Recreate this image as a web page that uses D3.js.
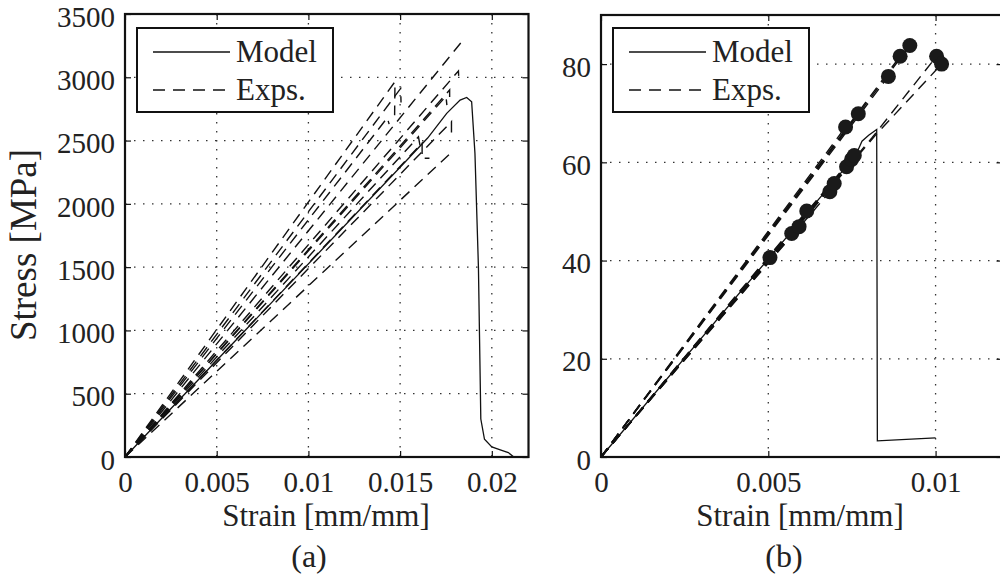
<!DOCTYPE html>
<html>
<head>
<meta charset="utf-8">
<script src="https://cdn.jsdelivr.net/npm/d3@7"></script>
<style>
body { margin: 0; background: #fff; }
text { font-family: "Liberation Serif", "Times New Roman", serif; fill: #222; }
</style>
</head>
<body>
<svg id="chart" width="1000" height="578" font-family="Liberation Serif, serif"></svg>
<script>
// ---- panel (a): stress in MPa vs strain
const xTicksA = [0, 0.005, 0.01, 0.015, 0.02];
const yTicksA = [0, 500, 1000, 1500, 2000, 2500, 3000, 3500];
const modelA = [[0, 0], [0.0154, 2350], [0.0165, 2520], [0.01754, 2715], [0.01827, 2820], [0.01863, 2841],
    [0.0189, 2807], [0.01908, 2400], [0.01927, 1500], [0.0194, 300], [0.0196, 140], [0.0200, 80],
    [0.0205, 55], [0.0209, 35], [0.0212, 0]];
const expA = [
    [[0, 0], [0.01472, 2965], [0.01470, 2700]],
    [[0, 0], [0.01503, 2912], [0.01505, 2800]],
    [[0, 0], [0.0143, 2680], [0.0144, 2630]],
    [[0, 0], [0.01836, 3281]],
    [[0, 0], [0.01818, 3050], [0.01820, 2990]],
    [[0, 0], [0.0177, 2900], [0.0177, 2800]],
    [[0, 0], [0.0175, 2850], [0.01755, 2780]],
    [[0, 0], [0.0160, 2530], [0.0161, 2450]],
    [[0, 0], [0.0162, 2480], [0.0162, 2360], [0.0166, 2360]],
    [[0, 0], [0.0178, 2650], [0.0178, 2540]],
    [[0, 0], [0.0179, 2420]]
];

// ---- panel (b)
const xTicksB = [0, 0.005, 0.01];
const yTicksB = [0, 20, 40, 60, 80];
const modelB = [[0, 0], [0.0075, 60.5], [0.00765, 62], [0.0078, 64.3], [0.0080, 65.5], [0.00824, 66.7],
    [0.00826, 3.3], [0.0100, 3.9]];
// every test ends with a filled dot
const expB = [
    [[0, 0], [0.00731, 67.2]],
    [[0, 0], [0.00769, 69.9]],
    [[0, 0], [0.00859, 77.5]],
    [[0, 0], [0.00894, 81.6]],
    [[0, 0], [0.00923, 83.8]],
    [[0, 0], [0.00505, 40.6]],
    [[0, 0], [0.0057, 45.5]],
    [[0, 0], [0.00592, 46.9]],
    [[0, 0], [0.00615, 50.1]],
    [[0, 0], [0.00684, 54.0]],
    [[0, 0], [0.00697, 55.7]],
    [[0, 0], [0.00734, 59.1]],
    [[0, 0], [0.00749, 60.6]],
    [[0, 0], [0.00757, 61.4]],
    [[0, 0], [0.0081, 65], [0.01003, 81.6]],
    [[0, 0], [0.0082, 65.5], [0.01018, 80.0]]
];

const legendNames = ['Model', 'Exps.'];

const svg = d3.select('#chart');
const dash = '11,7';

function drawPanel(cfg) {
    const g = svg.append('g');
    const x = d3.scaleLinear().domain(cfg.xDomain).range([cfg.left, cfg.right]);
    const y = d3.scaleLinear().domain(cfg.yDomain).range([cfg.bottom, cfg.top]);

    // dotted grid
    g.selectAll('.gx').data(cfg.xTicks.filter(d => d > cfg.xDomain[0] && d < cfg.xDomain[1]))
        .enter().append('line')
        .attr('x1', d => x(d)).attr('x2', d => x(d))
        .attr('y1', cfg.top).attr('y2', cfg.bottom)
        .attr('stroke', '#333').attr('stroke-width', 1.3).attr('stroke-dasharray', '1.5,7.5');
    g.selectAll('.gy').data(cfg.yTicks.filter(d => d > cfg.yDomain[0] && d < cfg.yDomain[1]))
        .enter().append('line')
        .attr('x1', cfg.left).attr('x2', cfg.right)
        .attr('y1', d => y(d)).attr('y2', d => y(d))
        .attr('stroke', '#333').attr('stroke-width', 1.3).attr('stroke-dasharray', '1.5,7.5');

    const line = d3.line().x(d => x(d[0])).y(d => y(d[1]));

    g.selectAll('.exp').data(cfg.exps).enter().append('path')
        .attr('d', line).attr('fill', 'none')
        .attr('stroke', '#111').attr('stroke-width', 1.4).attr('stroke-dasharray', dash);

    g.append('path').datum(cfg.model).attr('d', line).attr('fill', 'none')
        .attr('stroke', '#111').attr('stroke-width', 1.3);

    if (cfg.dots) {
        g.selectAll('.dot').data(cfg.exps.map(e => e[e.length - 1])).enter().append('circle')
            .attr('cx', d => x(d[0])).attr('cy', d => y(d[1])).attr('r', 7.5)
            .attr('fill', '#1a1a1a');
    }

    // axes, ticks pointing inward
    g.append('g').attr('transform', `translate(0,${cfg.bottom})`)
        .call(d3.axisBottom(x).tickValues(cfg.xTicks).tickFormat(d => String(d)).tickSize(-6).tickPadding(14));
    const left = g.append('g').attr('transform', `translate(${cfg.left},0)`)
        .call(d3.axisLeft(y).tickValues(cfg.yTicks).tickFormat(d => String(d)).tickSize(-6).tickPadding(10));
    g.append('g').attr('transform', `translate(0,${cfg.top})`)
        .call(d3.axisTop(x).tickValues(cfg.xTicks).tickFormat('').tickSize(-6));
    g.append('g').attr('transform', `translate(${cfg.right},0)`)
        .call(d3.axisRight(y).tickValues(cfg.yTicks).tickFormat('').tickSize(-6));
    g.selectAll('.domain').remove();
    g.selectAll('g.tick').attr('font-family', null);
    g.selectAll('.tick line').attr('stroke', '#111').attr('stroke-width', 1.2);
    g.selectAll('.tick text').attr('font-size', 29).attr('fill', '#222')
        .style('font-family', '"Liberation Serif", serif');
    left.selectAll('.tick text').attr('dy', '0.42em');

    g.append('rect').attr('x', cfg.left).attr('y', cfg.top)
        .attr('width', cfg.right - cfg.left).attr('height', cfg.bottom - cfg.top)
        .attr('fill', 'none').attr('stroke', '#111').attr('stroke-width', 2.2);

    // legend
    const lg = g.append('g');
    lg.append('rect').attr('x', cfg.legX).attr('y', 28).attr('width', 196).attr('height', 84)
        .attr('fill', '#fff').attr('stroke', '#111').attr('stroke-width', 2);
    legendNames.forEach((name, i) => {
        const ly = 52 + i * 38;
        lg.append('line').attr('x1', cfg.legX + 16).attr('x2', cfg.legX + 93)
            .attr('y1', ly).attr('y2', ly).attr('stroke', '#111').attr('stroke-width', 1.3)
            .attr('stroke-dasharray', i === 1 ? '12,8' : null);
        lg.append('text').attr('x', cfg.legX + 99).attr('y', ly + 10)
            .attr('font-size', 31).text(name);
    });

    g.append('text').attr('x', cfg.xLabelX).attr('y', 526).attr('text-anchor', 'middle')
        .attr('font-size', 31).text('Strain [mm/mm]');
    g.append('text').attr('x', cfg.capX).attr('y', 567).attr('text-anchor', 'middle')
        .attr('font-size', 32).text(cfg.caption);
}

drawPanel({
    xDomain: [0, 0.022], yDomain: [0, 3500],
    left: 125, right: 528.5, top: 14, bottom: 457,
    xTicks: xTicksA, yTicks: yTicksA,
    model: modelA, exps: expA, dots: false,
    legX: 137, xLabelX: 326, capX: 309, caption: '(a)'
});

drawPanel({
    xDomain: [0, 0.012], yDomain: [0, 90],
    left: 601, right: 1002.5, top: 15, bottom: 457,
    xTicks: xTicksB, yTicks: yTicksB,
    model: modelB, exps: expB, dots: true,
    legX: 613, xLabelX: 800, capX: 784, caption: '(b)'
});

svg.append('text').attr('transform', 'translate(36,245) rotate(-90)')
    .attr('text-anchor', 'middle').attr('font-size', 37).text('Stress [MPa]');
</script>
</body>
</html>
